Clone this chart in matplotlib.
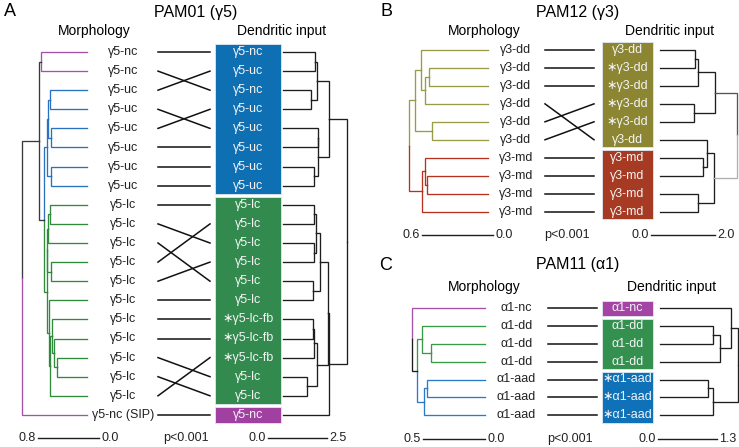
import matplotlib
matplotlib.use('Agg')
import matplotlib.pyplot as plt
from matplotlib.patches import Rectangle

W, H = 739, 447
plt.rcParams['font.family'] = ['Liberation Sans', 'DejaVu Sans']

PURPLE, BLUE, GREEN, GRAY = '#a651a8', '#2a72c0', '#2f8a3c', '#3a3a3a'
OLIVE, RED = '#9a9a48', '#b5321e'
DARK = '#1e1e1e'

# ---------------- A : PAM01 (γ5) ----------------
a_left_labels = ['γ5-nc'] * 2 + ['γ5-uc'] * 6 + ['γ5-lc'] * 11 + ['γ5-nc (SIP)']
a_right_labels = (['γ5-nc', 'γ5-uc', 'γ5-nc'] + ['γ5-uc'] * 5 + ['γ5-lc'] * 6
                  + ['∗γ5-lc-fb'] * 3 + ['γ5-lc'] * 2 + ['γ5-nc'])
a_match = [0, 2, 1, 4, 3, 5, 6, 7, 8, 10, 12, 9, 11, 13, 14, 15, 17, 18, 16, 19]
a_box_sizes = [8, 11, 1]
a_box_colors = ['#0f6fb3', '#338a4f', '#a040a0']
# linkage rows: child a, child b, height (leaves 0..n-1 in row order)
a_left_links = [[0, 1, 0.605], [2, 3, 0.49], [4, 5, 0.48], [6, 7, 0.48],
                [21, 22, 0.51], [24, 23, 0.52], [8, 9, 0.49], [26, 10, 0.51],
                [11, 12, 0.47], [27, 28, 0.52], [16, 17, 0.40], [15, 30, 0.43],
                [14, 31, 0.46], [32, 18, 0.49], [13, 33, 0.50], [29, 34, 0.53],
                [25, 35, 0.56], [20, 36, 0.63], [37, 19, 0.855]]
a_left_leaf_colors = [PURPLE] * 2 + [BLUE] * 6 + [GREEN] * 11 + [PURPLE]
a_left_node_colors = [GRAY] + [BLUE] * 5 + [GREEN] * 10 + [GRAY] * 3
a_right_links = [[0, 1, 1.36], [2, 3, 1.19], [20, 21, 1.42], [4, 5, 1.48],
                 [6, 7, 1.31], [23, 24, 1.50], [22, 25, 1.95], [8, 9, 1.30],
                 [10, 11, 1.31], [27, 28, 1.38], [12, 13, 1.26], [29, 30, 1.57],
                 [14, 15, 1.27], [32, 16, 1.33], [17, 18, 1.03], [33, 34, 1.43],
                 [31, 35, 1.90], [36, 19, 1.95], [26, 37, 2.70]]
a_right_node_colors = [DARK] * 19
a_scales = (0.8, 2.5)

# ---------------- B : PAM12 (γ3) ----------------
b_left_labels = ['γ3-dd'] * 6 + ['γ3-md'] * 4
b_right_labels = ['γ3-dd'] + ['∗γ3-dd'] * 4 + ['γ3-dd'] + ['γ3-md'] * 4
b_match = [0, 1, 2, 5, 3, 4, 6, 7, 8, 9]
b_box_sizes = [6, 4]
b_box_colors = ['#8c8633', '#a63a22']
b_left_links = [[1, 2, 0.50], [10, 3, 0.53], [0, 11, 0.565], [4, 5, 0.473],
                [12, 13, 0.613], [7, 8, 0.51], [6, 15, 0.53], [16, 9, 0.557],
                [14, 17, 0.66]]
b_left_leaf_colors = [OLIVE] * 6 + [RED] * 4
b_left_node_colors = [OLIVE] * 5 + [RED] * 3 + [DARK]
b_right_links = [[0, 1, 1.09], [10, 2, 1.20], [3, 4, 1.07], [11, 12, 1.72],
                 [6, 7, 1.35], [5, 14, 1.46], [8, 9, 1.20], [15, 16, 1.70],
                 [13, 17, 2.40]]
b_right_node_colors = [DARK] * 3 + ['#555555'] + [DARK] * 3 + ['#b0b0b0', DARK]
b_scales = (0.6, 2.0)

# ---------------- C : PAM11 (α1) ----------------
c_left_labels = ['α1-nc'] + ['α1-dd'] * 3 + ['α1-aad'] * 3
c_right_labels = ['α1-nc'] + ['α1-dd'] * 3 + ['∗α1-aad'] * 3
c_match = [0, 1, 2, 3, 4, 5, 6]
c_box_sizes = [1, 3, 3]
c_box_colors = ['#a445a6', '#33904f', '#0f72b8']
c_left_links = [[2, 3, 0.435], [1, 7, 0.505], [4, 5, 0.465], [9, 6, 0.49],
                [8, 10, 0.546], [0, 11, 0.59]]
c_left_leaf_colors = [PURPLE] + ['#3a9a48'] * 3 + ['#2a7ac8'] * 3
c_left_node_colors = ['#3a9a48'] * 2 + ['#2a7ac8'] * 2 + [DARK] * 2
c_right_links = [[1, 2, 1.17], [7, 3, 1.32], [0, 8, 1.56], [4, 5, 1.06],
                 [10, 6, 1.17], [9, 11, 1.71]]
c_right_node_colors = [DARK] * 6
c_scales = (0.5, 1.3)

fig = plt.figure(figsize=(W / 100, H / 100), dpi=100)
over = fig.add_axes([0, 0, 1, 1])
over.set_xlim(0, W)
over.set_ylim(H, 0)
over.axis('off')


def row_axes(x0, x1, y0, dy, n, xlim):
    top = y0 - dy / 2
    bot = y0 + (n - 0.5) * dy
    ax = fig.add_axes([x0 / W, 1 - bot / H, (x1 - x0) / W, (bot - top) / H])
    ax.set_xlim(*xlim)
    ax.set_ylim(n - 0.5, -0.5)
    ax.axis('off')
    return ax


def draw_tree(ax, links, leaf_cols, node_cols, lw=0.95):
    n = len(links) + 1
    ypos = list(range(n)) + [0.0] * len(links)
    xpos = [0.0] * n + [0.0] * len(links)
    cols = list(leaf_cols) + list(node_cols)
    for k, (a, b, h) in enumerate(links):
        m = n + k
        ypos[m] = (ypos[a] + ypos[b]) / 2
        xpos[m] = h
        for c in (a, b):
            ax.plot([xpos[c], h, h], [ypos[c], ypos[c], ypos[m]], color=cols[c],
                    lw=lw, solid_joinstyle='miter', clip_on=False)


def scale_bar(ax, anchor, value, ybar, left):
    end = anchor + value
    ax.plot([anchor, end], [ybar, ybar], color=DARK, lw=1.0, clip_on=False)
    kw = dict(textcoords='offset points', va='center', fontsize=9, color='#222',
              annotation_clip=False)
    if left:
        ax.annotate('%.1f' % value, (end, ybar), xytext=(-1.5, 0), ha='right', **kw)
        ax.annotate('0.0', (anchor, ybar), xytext=(1.5, 0), ha='left', **kw)
    else:
        ax.annotate('0.0', (anchor, ybar), xytext=(-1.5, 0), ha='right', **kw)
        ax.annotate('%.1f' % value, (end, ybar), xytext=(1.5, 0), ha='left', **kw)


def panel(p):
    y0, dy, n = p['y0'], p['dy'], p['n']
    # left dendrogram (morphology)
    lx, ls, le = p['left_leaf'], p['left_px'], p['left_ext']
    axl = row_axes(lx - ls * le, lx, y0, dy, n, (le, 0))
    draw_tree(axl, p['left_links'], p['left_leaf_colors'], p['left_node_colors'])
    ybar = (p['bar_y'] - y0) / dy
    scale_bar(axl, (lx - p['left_bar']) / ls, p['scales'][0], ybar, True)
    # right dendrogram (dendritic input)
    rx, rs, re = p['right_leaf'], p['right_px'], p['right_ext']
    axr = row_axes(rx, rx + rs * re, y0, dy, n, (0, re))
    draw_tree(axr, p['right_links'], [DARK] * n, p['right_node_colors'])
    scale_bar(axr, (p['right_bar'] - rx) / rs, p['scales'][1], ybar, False)
    # labels, tangle lines and boxes
    axm = row_axes(0, W, y0, dy, n, (0, W))
    for i, lab in enumerate(p['left_labels']):
        axm.text(p['lab_x'], i, lab, ha='center', va='center', fontsize=9, color='#222')
    for i, j in enumerate(p['match']):
        axm.plot([p['line_x'][0], p['line_x'][1]], [i, j], color='#111111', lw=1.1)
    bx0, bx1 = p['box_x']
    start = 0
    for size, col in zip(p['box_sizes'], p['box_colors']):
        g = 0.08
        axm.add_patch(Rectangle((bx0, start - 0.5 + g), bx1 - bx0, size - 2 * g,
                                facecolor=col, edgecolor='#dfe9f0', lw=0.6))
        start += size
    for i, lab in enumerate(p['right_labels']):
        axm.text((bx0 + bx1) / 2, i, lab, ha='center', va='center', fontsize=9,
                 color='#f4f4f4')
    # headings
    over.text(p['letter'][1], p['title_y'], p['letter'][0], ha='center', va='center', fontsize=13)
    over.text(p['title_x'], p['title_y'], p['title'], ha='center', va='center', fontsize=11.5)
    over.text(p['head_x'][0], p['head_y'], 'Morphology', ha='center', va='center', fontsize=10)
    over.text(p['head_x'][1], p['head_y'], 'Dendritic input', ha='center', va='center', fontsize=10)
    over.text(p['p_x'], p['bar_y'], 'p<0.001', ha='center', va='center', fontsize=9, color='#222')


panel(dict(y0=52, dy=19.1, n=20, left_leaf=87, left_px=76, left_ext=1.0, left_bar=99,
           right_leaf=283, right_px=23.6, right_ext=2.9, right_bar=268, bar_y=438,
           left_links=a_left_links, left_leaf_colors=a_left_leaf_colors,
           left_node_colors=a_left_node_colors, right_links=a_right_links,
           right_node_colors=a_right_node_colors, scales=a_scales,
           left_labels=a_left_labels, right_labels=a_right_labels, match=a_match,
           box_sizes=a_box_sizes, box_colors=a_box_colors, lab_x=123.5,
           line_x=(158, 210), box_x=(215, 281), letter=('A', 9.5), title='PAM01 (γ5)',
           title_x=195.5, title_y=12, head_x=(94, 282), head_y=31, p_x=185.5))

panel(dict(y0=50, dy=17.95, n=10, left_leaf=488, left_px=119, left_ext=0.7, left_bar=493.3,
           right_leaf=660, right_px=32, right_ext=2.45, right_bar=651, bar_y=235,
           left_links=b_left_links, left_leaf_colors=b_left_leaf_colors,
           left_node_colors=b_left_node_colors, right_links=b_right_links,
           right_node_colors=b_right_node_colors, scales=b_scales,
           left_labels=b_left_labels, right_labels=b_right_labels, match=b_match,
           box_sizes=b_box_sizes, box_colors=b_box_colors, lab_x=516,
           line_x=(545, 594), box_x=(601.7, 653.3), letter=('B', 386), title='PAM12 (γ3)',
           title_x=578, title_y=12, head_x=(484, 669.5), head_y=31, p_x=567))

panel(dict(y0=308.3, dy=17.8, n=7, left_leaf=485, left_px=124, left_ext=0.65, left_bar=485,
           right_leaf=660, right_px=45.4, right_ext=1.75, right_bar=658, bar_y=439,
           left_links=c_left_links, left_leaf_colors=c_left_leaf_colors,
           left_node_colors=c_left_node_colors, right_links=c_right_links,
           right_node_colors=c_right_node_colors, scales=c_scales,
           left_labels=c_left_labels, right_labels=c_right_labels, match=c_match,
           box_sizes=c_box_sizes, box_colors=c_box_colors, lab_x=516.5,
           line_x=(548, 597), box_x=(602, 653), letter=('C', 386), title='PAM11 (α1)',
           title_x=578, title_y=265, head_x=(484, 672), head_y=287, p_x=570))

fig.savefig('out.png', dpi=100)
